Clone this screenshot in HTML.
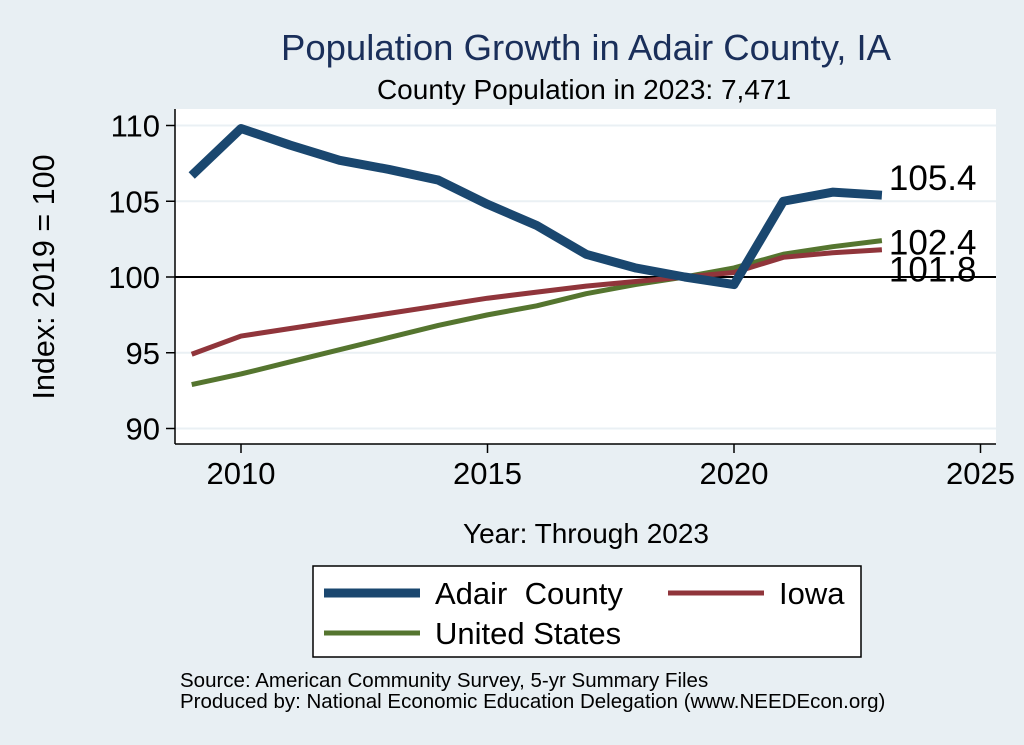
<!DOCTYPE html>
<html><head><meta charset="utf-8"><style>
body{margin:0;background:#e8eff3;}
svg{display:block;font-family:"Liberation Sans",sans-serif;}
</style></head><body>
<svg id="c" width="1024" height="745">
<rect x="0" y="0" width="1024" height="745" fill="#e8eff3"/>
<rect x="175" y="109" width="821" height="335" fill="#fff"/>
<text x="586" y="60" text-anchor="middle" font-size="36.5" fill="#1a2f5a">Population Growth in Adair County, IA</text>
<text x="584" y="99" text-anchor="middle" font-size="28" fill="#000">County Population in 2023: 7,471</text>
<text transform="translate(54,277) rotate(-90)" text-anchor="middle" font-size="30.5">Index: 2019 = 100</text>
<text x="586" y="543" text-anchor="middle" font-size="28">Year: Through 2023</text>
<g id="grid"></g><g id="axes"></g><g id="series"></g>
<rect x="313" y="566" width="548" height="91" fill="#fff" stroke="#000" stroke-width="1.5"/>
<g><line x1="324" y1="593" x2="420" y2="593" stroke="#1a476f" stroke-width="9"/><text x="435" y="604" font-size="31" xml:space="preserve">Adair  County</text></g>
<g><line x1="668" y1="593" x2="764" y2="593" stroke="#90353b" stroke-width="5"/><text x="779" y="604" font-size="31">Iowa</text></g>
<g><line x1="324" y1="633" x2="420" y2="633" stroke="#55752f" stroke-width="5"/><text x="435" y="644" font-size="31">United States</text></g>
<text x="180" y="687" font-size="20.5">Source: American Community Survey, 5-yr Summary Files</text>
<text x="180" y="708" font-size="20.5">Produced by: National Economic Education Delegation (www.NEEDEcon.org)</text>
</svg>
<script>
const years=[2009,2010,2011,2012,2013,2014,2015,2016,2017,2018,2019,2020,2021,2022,2023];
const adair=[106.7,109.8,108.7,107.7,107.1,106.4,104.8,103.4,101.5,100.6,100,99.5,105.0,105.6,105.4];
const iowa=[94.9,96.1,96.6,97.1,97.6,98.1,98.6,99.0,99.4,99.7,100,100.3,101.3,101.6,101.8];
const us=[92.9,93.6,94.4,95.2,96.0,96.8,97.5,98.1,98.9,99.5,100,100.6,101.5,102.0,102.4];
const xTicks=[2010,2015,2020,2025];
const yTicks=[90,95,100,105,110];
const NS="http://www.w3.org/2000/svg";
const X=v=>241+(v-2010)*49.3;
const Y=v=>277-(v-100)*15.15;
function mk(t,a,p){const e=document.createElementNS(NS,t);for(const k in a)e.setAttribute(k,a[k]);p.appendChild(e);return e;}
const grid=document.getElementById('grid'),axes=document.getElementById('axes'),ser=document.getElementById('series');
yTicks.forEach(v=>{
 const g=mk('line',{x1:175,x2:996,y1:Y(v),y2:Y(v),stroke:v===100?'#000':'#eaf0f4','stroke-width':2},grid);
 
 
 const t=mk('line',{x1:166,x2:175,y1:Y(v),y2:Y(v),stroke:'#000','stroke-width':1.5},axes);
 
 
 const l=mk('text',{x:160,y:Y(v)+11,'text-anchor':'end','font-size':31},axes);l.textContent=v;
 
 
});
xTicks.forEach(v=>{
 const t=mk('line',{x1:X(v),x2:X(v),y1:444,y2:453,stroke:'#000','stroke-width':1.5},axes);
 
 
 const l=mk('text',{x:X(v),y:484,'text-anchor':'middle','font-size':31},axes);l.textContent=v;
 
 
});
const ya=mk('line',{x1:175,x2:175,y1:109,y2:444,stroke:'#000','stroke-width':1.5},axes);


const xa=mk('line',{x1:175,x2:996,y1:444,y2:444,stroke:'#000','stroke-width':1.5},axes);


function line(vals,col,w,name,ly){
 const p=mk('polyline',{points:vals.map((v,i)=>X(years[i])+','+Y(v)).join(' '),fill:'none',stroke:col,'stroke-width':w,'stroke-linejoin':'round'},ser);
 
 
 const last=vals[vals.length-1];
 const t=mk('text',{x:X(years[years.length-1])+7,y:Y(last)+ly,'font-size':35},ser);t.textContent=last.toFixed(1);
 
 
}
line(us,'#55752f',5,'line-united-states',14);
line(iowa,'#90353b',5,'line-iowa',32);
line(adair,'#1a476f',9,'line-adair-county',-5);
</script>
</body></html>
